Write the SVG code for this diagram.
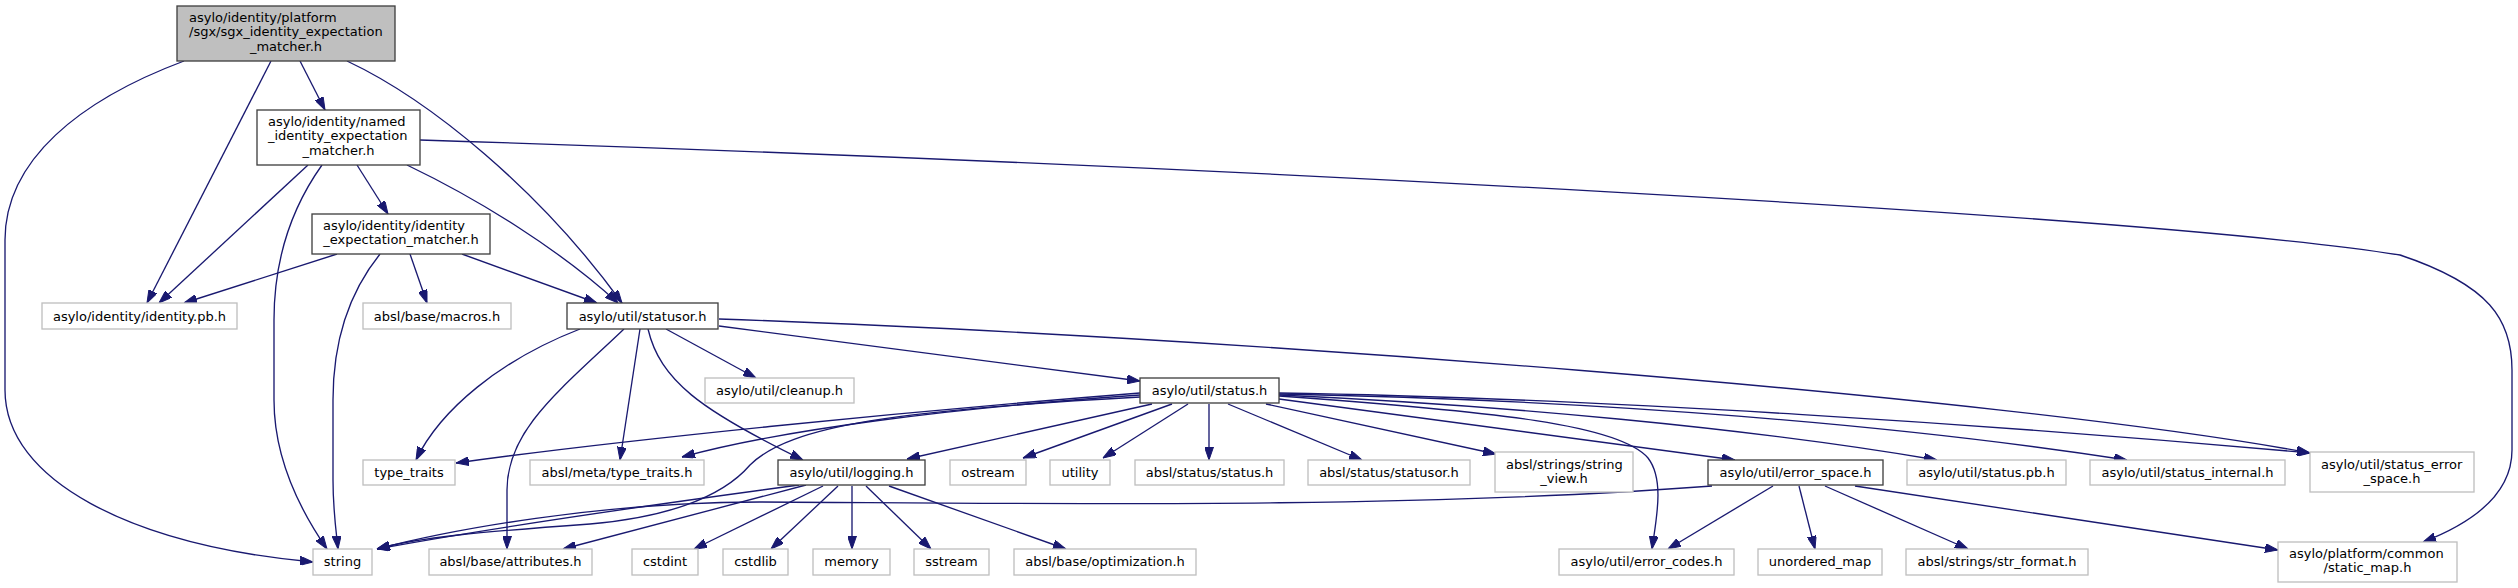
<svg xmlns="http://www.w3.org/2000/svg" width="2518" height="588" viewBox="0 0 2518 588">
<style>
.bg{fill:#ffffff}
.d{fill:#ffffff;stroke:#404040;stroke-width:1.33}
.r{fill:#bfbfbf;stroke:#404040;stroke-width:1.33}
.x{fill:#ffffff;stroke:#bfbfbf;stroke-width:1.33}
text{font-family:"DejaVu Sans","Liberation Sans",sans-serif;font-size:13px;fill:#000000}
.m{text-anchor:middle}
.s{text-anchor:start}
.e path{fill:none;stroke:#191970;stroke-width:1.33;marker-end:url(#ah)}
</style>
<defs>
<marker id="ah" markerUnits="userSpaceOnUse" viewBox="0 0 13 9" markerWidth="13" markerHeight="9" refX="13" refY="4.5" orient="auto">
<path d="M0,0 L13,4.5 L0,9 z" fill="#191970" stroke="#191970" stroke-width="1"/>
</marker>
</defs>
<rect class="bg" x="0" y="0" width="2518" height="588"/>
<g id="edges" class="e">
<path d="M184,61 C80,100 5,160 5,240 L5,390 C5,480 130,545 313,562"/>
<path d="M271,61 L147,303"/>
<path d="M300,61 L325,110"/>
<path d="M347,61 C430,100 540,190 622,303"/>
<path d="M308,165 L159,303"/>
<path d="M322,165 C290,210 274,260 274,320 L274,400 C274,460 300,510 327,549"/>
<path d="M357,165 L388,214"/>
<path d="M407,165 C480,200 560,250 618,303"/>
<path d="M420,140 C1200,165 2150,215 2400,255 C2490,285 2512,320 2512,370 L2512,450 C2512,490 2480,520 2423,542"/>
<path d="M337,254 L184,303"/>
<path d="M380,254 C355,285 333,330 333,400 L333,480 C333,510 336,530 338,549"/>
<path d="M410,254 L427,303"/>
<path d="M462,254 L597,303"/>
<path d="M580,329 C500,360 440,410 416,460"/>
<path d="M624,329 C560,390 507,430 507,490 L507,549"/>
<path d="M640,329 L620,460"/>
<path d="M648,329 C660,380 700,410 803,460"/>
<path d="M666,329 L756,378"/>
<path d="M719,326 L1140,381"/>
<path d="M719,319 C1200,335 2000,395 2310,453"/>
<path d="M1140,393 C900,412 620,440 456,463"/>
<path d="M1140,395 C950,408 780,430 682,457"/>
<path d="M1140,397 C900,410 790,425 750,465 C720,500 660,518 590,524 C480,532 420,537 377,549"/>
<path d="M1152,404 L907,459"/>
<path d="M1172,404 L1023,458"/>
<path d="M1188,404 L1103,458"/>
<path d="M1209,404 L1209,460"/>
<path d="M1228,404 L1362,460"/>
<path d="M1266,404 L1496,454"/>
<path d="M1279,399 L1735,460"/>
<path d="M1279,396 C1500,412 1620,425 1648,458 C1665,480 1656,520 1652,549"/>
<path d="M1279,395 C1500,405 1750,428 1937,460"/>
<path d="M1279,394 C1600,400 1900,425 2127,460"/>
<path d="M1279,393 C1600,398 2000,425 2310,453"/>
<path d="M799,485 C650,505 480,530 377,549"/>
<path d="M806,485 L563,549"/>
<path d="M823,486 L694,549"/>
<path d="M838,486 L771,549"/>
<path d="M852,486 L852,549"/>
<path d="M866,486 L931,549"/>
<path d="M889,486 L1066,549"/>
<path d="M1712,486 C1400,510 1000,503 760,502 C600,502 450,530 377,549"/>
<path d="M1773,486 L1668,549"/>
<path d="M1799,486 L1815,549"/>
<path d="M1825,486 L1968,549"/>
<path d="M1855,486 L2278,550"/>
</g>
<g id="root"><rect class="r" x="177" y="6" width="218" height="55"/><text class="s" x="189" y="21.5">asylo/identity/platform</text><text class="s" x="189" y="36.3">/sgx/sgx_identity_expectation</text><text class="m" x="286" y="51">_matcher.h</text></g>
<g id="named"><rect class="d" x="257" y="110" width="163" height="55"/><text class="s" x="268" y="125.5">asylo/identity/named</text><text class="s" x="268" y="140.3">_identity_expectation</text><text class="m" x="338.5" y="155">_matcher.h</text></g>
<g id="idexp"><rect class="d" x="312" y="214" width="178" height="40"/><text class="s" x="323" y="229.5">asylo/identity/identity</text><text class="m" x="401" y="244.2">_expectation_matcher.h</text></g>
<g id="identitypb"><rect class="x" x="42" y="303" width="195" height="26"/><text class="m" x="139.5" y="320.5">asylo/identity/identity.pb.h</text></g>
<g id="macros"><rect class="x" x="363" y="303" width="148" height="26"/><text class="m" x="437" y="320.5">absl/base/macros.h</text></g>
<g id="statusor"><rect class="d" x="567" y="303" width="151" height="26"/><text class="m" x="642.5" y="320.5">asylo/util/statusor.h</text></g>
<g id="cleanup"><rect class="x" x="705" y="378" width="149" height="25"/><text class="m" x="779.5" y="395">asylo/util/cleanup.h</text></g>
<g id="status"><rect class="d" x="1140" y="378" width="139" height="25"/><text class="m" x="1209.5" y="395">asylo/util/status.h</text></g>
<g id="typetraits"><rect class="x" x="363" y="460" width="92" height="25"/><text class="m" x="409" y="477">type_traits</text></g>
<g id="metatypetraits"><rect class="x" x="530" y="460" width="174" height="25"/><text class="m" x="617" y="477">absl/meta/type_traits.h</text></g>
<g id="logging"><rect class="d" x="778" y="460" width="147" height="25"/><text class="m" x="851.5" y="477">asylo/util/logging.h</text></g>
<g id="ostream"><rect class="x" x="950" y="460" width="76" height="25"/><text class="m" x="988" y="477">ostream</text></g>
<g id="utility"><rect class="x" x="1050" y="460" width="60" height="25"/><text class="m" x="1080" y="477">utility</text></g>
<g id="abslstatus"><rect class="x" x="1135" y="460" width="149" height="25"/><text class="m" x="1209.5" y="477">absl/status/status.h</text></g>
<g id="abslstatusor"><rect class="x" x="1308" y="460" width="162" height="25"/><text class="m" x="1389" y="477">absl/status/statusor.h</text></g>
<g id="stringview"><rect class="x" x="1495" y="452" width="138" height="40"/><text class="s" x="1506" y="468.5">absl/strings/string</text><text class="m" x="1564" y="483.2">_view.h</text></g>
<g id="errorspace"><rect class="d" x="1708" y="460" width="175" height="25"/><text class="m" x="1795.5" y="477">asylo/util/error_space.h</text></g>
<g id="statuspb"><rect class="x" x="1907" y="460" width="159" height="25"/><text class="m" x="1986.5" y="477">asylo/util/status.pb.h</text></g>
<g id="statusinternal"><rect class="x" x="2090" y="460" width="195" height="25"/><text class="m" x="2187.5" y="477">asylo/util/status_internal.h</text></g>
<g id="statuserrorspace"><rect class="x" x="2310" y="452" width="164" height="40"/><text class="s" x="2321" y="468.5">asylo/util/status_error</text><text class="m" x="2392" y="483.2">_space.h</text></g>
<g id="string"><rect class="x" x="313" y="549" width="59" height="26"/><text class="m" x="342.5" y="566">string</text></g>
<g id="attributes"><rect class="x" x="429" y="549" width="163" height="26"/><text class="m" x="510.5" y="566">absl/base/attributes.h</text></g>
<g id="cstdint"><rect class="x" x="632" y="549" width="66" height="26"/><text class="m" x="665" y="566">cstdint</text></g>
<g id="cstdlib"><rect class="x" x="723" y="549" width="65" height="26"/><text class="m" x="755.5" y="566">cstdlib</text></g>
<g id="memory"><rect class="x" x="813" y="549" width="77" height="26"/><text class="m" x="851.5" y="566">memory</text></g>
<g id="sstream"><rect class="x" x="914" y="549" width="75" height="26"/><text class="m" x="951.5" y="566">sstream</text></g>
<g id="optimization"><rect class="x" x="1014" y="549" width="182" height="26"/><text class="m" x="1105" y="566">absl/base/optimization.h</text></g>
<g id="errorcodes"><rect class="x" x="1559" y="549" width="175" height="26"/><text class="m" x="1646.5" y="566">asylo/util/error_codes.h</text></g>
<g id="unorderedmap"><rect class="x" x="1758" y="549" width="124" height="26"/><text class="m" x="1820" y="566">unordered_map</text></g>
<g id="strformat"><rect class="x" x="1906" y="549" width="182" height="26"/><text class="m" x="1997" y="566">absl/strings/str_format.h</text></g>
<g id="staticmap"><rect class="x" x="2278" y="542" width="179" height="40"/><text class="s" x="2289" y="557.5">asylo/platform/common</text><text class="m" x="2367.5" y="572.2">/static_map.h</text></g>
</svg>
